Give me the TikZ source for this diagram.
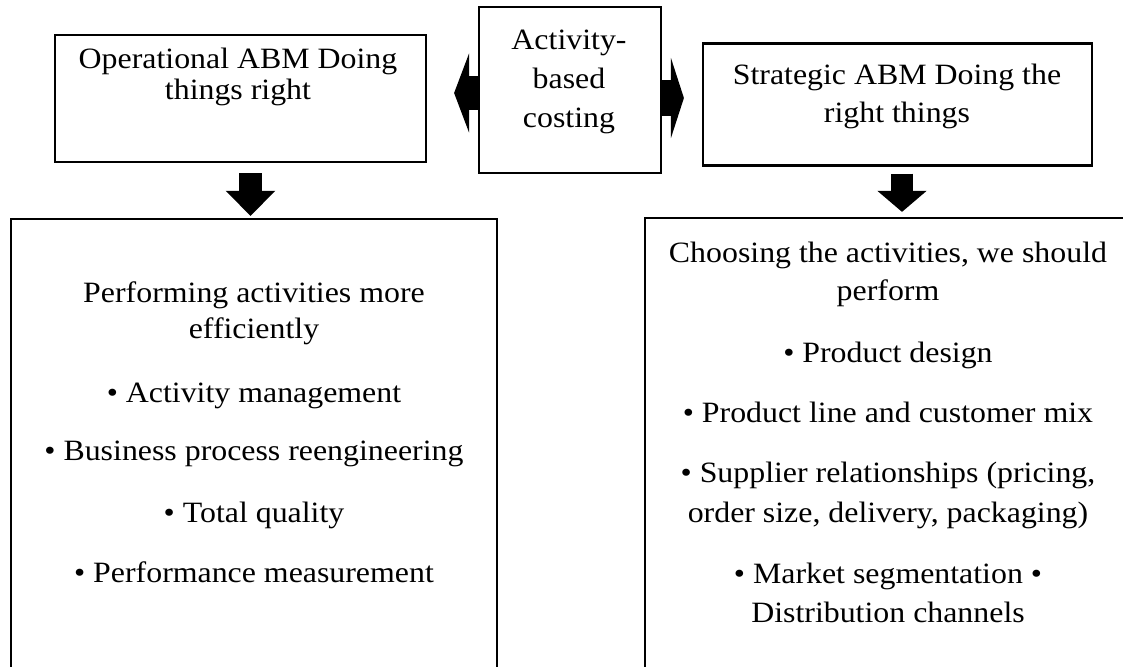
\documentclass[tikz,border=0pt]{standalone}
\usepackage{fontspec}
\setmainfont[FakeStretch=1.08]{Liberation Serif}
\usetikzlibrary{arrows.meta,calc}

\tikzset{
  box/.style 2 args={draw, line width=2.2pt, minimum width=#1pt, minimum height=#2pt, inner sep=0pt},
  txt/.style={align=center, anchor=base, inner sep=0pt, font=\fontsize{29.5}{36}\selectfont},
  blockarrow/.style n args={3}{line width=#1pt, -{Triangle[width=#2pt, length=#3pt]}}
}

\begin{document}
\begin{tikzpicture}[x=1pt, y=-1pt]
    \useasboundingbox (0,0) rectangle (1123,666);
    \clip (0,0) rectangle (1123,666);
    % boxes
    \node[box={371}{127}] (ops) at (240.5,98.5) {};
    \node[box={182}{166}] (abc) at (570,90) {};
    \node[box={389}{122}] (strat) at (897.5,104.5) {};
    \node[box={486}{541}] (opsb) at (254,489.5) {};
    \node[box={486}{542}] (stratb) at (888,489) {};
    % texts (anchored at the baseline of their last line)
    \node[txt, font=\fontsize{29.5}{32}\selectfont] (opst) at (238,100) {Operational ABM Doing\\things right};
    \node[txt, font=\fontsize{29.5}{39}\selectfont] (abct) at (569,128) {Activity-\\based\\costing};
    \node[txt, font=\fontsize{29.5}{38}\selectfont] (stratt) at (897,122) {Strategic ABM Doing the\\right things};
    \node[txt] (opsb1) at (254,338) {Performing activities more\\efficiently};
    \node[txt] (opsb2) at (254,402) {• Activity management};
    \node[txt] (opsb3) at (254,460) {• Business process reengineering};
    \node[txt] (opsb4) at (254,522) {• Total quality};
    \node[txt] (opsb5) at (254,582) {• Performance measurement};
    \node[txt, font=\fontsize{29.5}{38}\selectfont] (stratb1) at (888,300) {Choosing the activities, we should\\perform};
    \node[txt] (stratb2) at (888,362) {• Product design};
    \node[txt] (stratb3) at (888,422) {• Product line and customer mix};
    \node[txt, font=\fontsize{29.5}{40}\selectfont] (stratb4) at (888,522) {• Supplier relationships (pricing,\\order size, delivery, packaging)};
    \node[txt, font=\fontsize{29.5}{39}\selectfont] (stratb5) at (888,622) {• Market segmentation •\\Distribution channels};
    % arrows
    \draw[blockarrow={34}{79}{15}, shorten >=27pt] ($(abc.west)+(0,3)$) -- ($(ops.east)+(0,-5.5)$);
    \draw[blockarrow={36}{80}{13}, shorten >=18pt] ($(abc.east)+(0,8)$) -- ($(strat.west)+(0,-6.5)$);
    \draw[blockarrow={23}{48}{25}, shorten <=10pt, shorten >=2pt] ($(ops.south)+(10,0)$) -- ($(opsb.north)+(-3.5,0)$);
    \draw[blockarrow={22}{48}{21}, shorten <=7pt, shorten >=5pt] ($(strat.south)+(4.5,0)$) -- ($(stratb.north)+(14,0)$);
\end{tikzpicture}
\end{document}
